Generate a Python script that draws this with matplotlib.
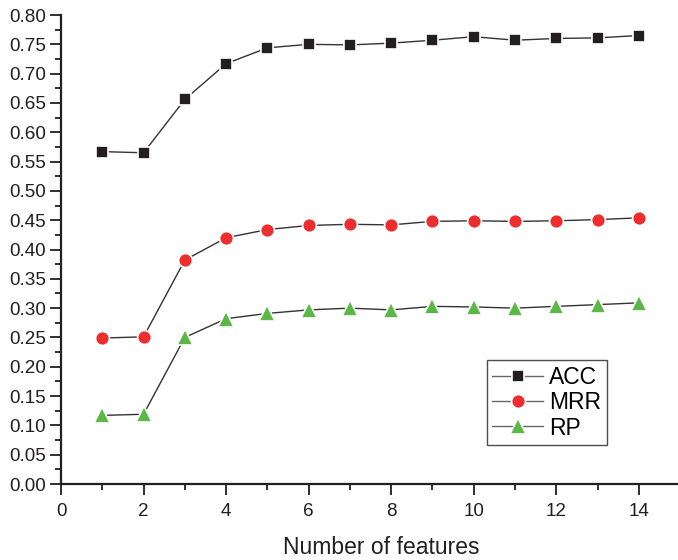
import matplotlib
matplotlib.use("Agg")
import matplotlib.pyplot as plt
from matplotlib.ticker import MultipleLocator

plt.rcParams['font.family'] = ['Liberation Sans', 'DejaVu Sans']

n_features = [1, 2, 3, 4, 5, 6, 7, 8, 9, 10, 11, 12, 13, 14]
acc = [0.567, 0.565, 0.656, 0.717, 0.744, 0.750, 0.749, 0.752, 0.757, 0.763, 0.757, 0.760, 0.761, 0.765]
mrr = [0.249, 0.251, 0.382, 0.420, 0.434, 0.441, 0.443, 0.442, 0.448, 0.449, 0.448, 0.449, 0.451, 0.454]
rp = [0.117, 0.119, 0.250, 0.282, 0.291, 0.297, 0.300, 0.297, 0.303, 0.302, 0.300, 0.303, 0.306, 0.309]

fig = plt.figure(figsize=(6.78, 5.6), dpi=100)
ax = fig.add_axes([0.09, 0.1357, 0.91, 0.8375])

line_col = '#333333'
ax.plot(n_features, acc, color=line_col, lw=1.0, marker='s', ms=8.5,
        mfc='#231f20', mec='white', mew=1.2, label='ACC', zorder=3)
ax.plot(n_features, mrr, color=line_col, lw=1.0, marker='o', ms=10,
        mfc='#ee2e2e', mec='white', mew=1.2, label='MRR', zorder=3)
ax.plot(n_features, rp, color=line_col, lw=1.0, marker='^', ms=11,
        mfc='#5cb846', mec='white', mew=1.2, label='RP', zorder=3)

ax.set_xlim(0, 14.95)
ax.set_ylim(0, 0.80)
ax.xaxis.set_major_locator(MultipleLocator(2))
ax.xaxis.set_minor_locator(MultipleLocator(1))
ax.yaxis.set_major_locator(MultipleLocator(0.05))
ax.yaxis.set_minor_locator(MultipleLocator(0.025))
ax.yaxis.set_major_formatter(matplotlib.ticker.FormatStrFormatter('%.2f'))

for s in ['top', 'right']:
    ax.spines[s].set_visible(False)
for s in ['left', 'bottom']:
    ax.spines[s].set_linewidth(1.6)
    ax.spines[s].set_color('#231f20')

ax.tick_params(which='major', direction='out', length=8, width=1.3, labelsize=13.6, colors='#231f20')
ax.tick_params(which='minor', direction='out', length=4.5, width=1.3, colors='#231f20')
ax.tick_params(axis='x', pad=6)
ax.tick_params(axis='y', pad=3)

ax.set_xlabel('Number of features', fontsize=16.5, labelpad=11, color='#231f20')
ax.xaxis.label.set_x(0.519)

leg = ax.legend(loc='upper left', bbox_to_anchor=(0.690, 0.264), fontsize=16.5,
                frameon=True, fancybox=False, edgecolor='#231f20',
                handlelength=2.2, handletextpad=0.28, borderpad=0.25,
                labelspacing=0.1, borderaxespad=0)
leg.get_frame().set_linewidth(1.0)
for h in leg.legend_handles:
    h.set_color('#666666')

fig.savefig('out.png', dpi=100)
